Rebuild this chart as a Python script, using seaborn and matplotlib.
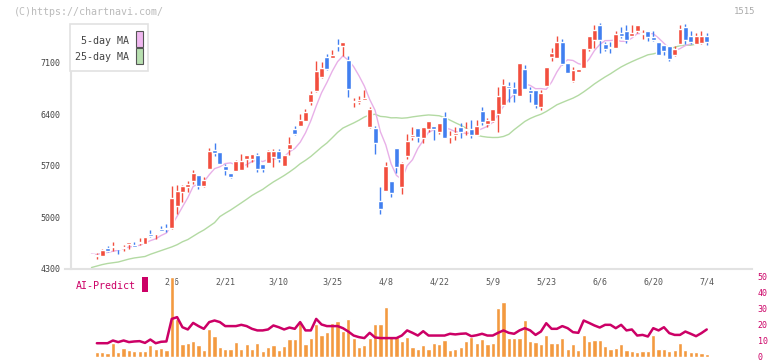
import numpy as np
import pandas as pd
import matplotlib
matplotlib.use("Agg")
import matplotlib.pyplot as plt
import matplotlib.transforms as mtransforms
from matplotlib.patches import Rectangle
import seaborn as sns

# --- 1. Data ---
opens = [4500, 4475, 4480, 4590, 4595, 4585, 4590, 4645, 4625, 4660,
         4645, 4775, 4770, 4835, 4855, 4855, 5155, 5350, 5420, 5500,
         5580, 5430, 5665, 5915, 5885, 5695, 5600, 5630, 5645, 5790,
         5795, 5850, 5725, 5745, 5825, 5905, 5705, 5925, 6200, 6245,
         6315, 6575, 6720, 6915, 7185, 7170, 7345, 7335, 7140, 6565,
         6575, 6600, 6230, 6215, 5225, 5360, 5495, 5945, 5420, 5840,
         6100, 6215, 6085, 6200, 6240, 6165, 6365, 6100, 6120, 6230,
         6195, 6200, 6120, 6445, 6270, 6315, 6405, 6530, 6785, 6755,
         6655, 7020, 6735, 6735, 6505, 6785, 7185, 7170, 7390, 7095,
         6860, 6980, 7035, 7295, 7410, 7620, 7360, 7320, 7305, 7505,
         7530, 7460, 7530, 7495, 7530, 7455, 7385, 7350, 7335, 7210,
         7360, 7590, 7470, 7360, 7370, 7470]
highs = [4510, 4520, 4570, 4610, 4665, 4585, 4625, 4665, 4665, 4715,
         4735, 4830, 4790, 4885, 4910, 5430, 5440, 5440, 5495, 5645,
         5580, 5545, 5940, 6010, 5885, 5725, 5610, 5780, 5865, 5850,
         5865, 5870, 5725, 5915, 5925, 5925, 5850, 6100, 6245, 6405,
         6475, 6720, 7125, 7115, 7220, 7275, 7425, 7385, 7200, 6620,
         6650, 6735, 6505, 6245, 5420, 5760, 5495, 5945, 5760, 6135,
         6225, 6215, 6230, 6310, 6240, 6285, 6440, 6175, 6235, 6290,
         6300, 6325, 6325, 6505, 6350, 6475, 6780, 6880, 6845, 6845,
         7100, 7070, 6780, 6735, 6735, 7050, 7310, 7470, 7425, 7095,
         7050, 7020, 7305, 7460, 7620, 7645, 7385, 7385, 7530, 7585,
         7620, 7620, 7620, 7550, 7530, 7530, 7385, 7350, 7335, 7325,
         7620, 7635, 7530, 7505, 7530, 7505]
lows = [4495, 4430, 4480, 4535, 4550, 4505, 4550, 4570, 4595, 4625,
        4645, 4730, 4710, 4825, 4805, 4845, 5045, 5215, 5350, 5455,
        5390, 5420, 5665, 5835, 5730, 5580, 5535, 5630, 5640, 5690,
        5760, 5620, 5620, 5745, 5690, 5760, 5705, 5850, 6120, 6245,
        6315, 6530, 6710, 6890, 7005, 7165, 7265, 7200, 6635, 6500,
        6540, 6600, 6210, 5865, 5045, 5360, 5285, 5610, 5320, 5795,
        6055, 6030, 6015, 6165, 6055, 6130, 6085, 6015, 6055, 6075,
        6120, 6085, 6120, 6255, 6235, 6300, 6165, 6530, 6575, 6575,
        6655, 6745, 6575, 6485, 6460, 6785, 7125, 7170, 7070, 6960,
        6845, 6980, 7025, 7260, 7305, 7235, 7260, 7235, 7305, 7440,
        7370, 7460, 7505, 7430, 7395, 7400, 7210, 7210, 7125, 7200,
        7360, 7360, 7360, 7360, 7360, 7345]
closes = [4505, 4485, 4560, 4550, 4605, 4575, 4600, 4665, 4600, 4670,
          4735, 4755, 4790, 4825, 4840, 5265, 5360, 5430, 5450, 5605,
          5430, 5510, 5905, 5870, 5730, 5650, 5555, 5770, 5770, 5845,
          5860, 5665, 5660, 5905, 5905, 5800, 5850, 6005, 6130, 6325,
          6440, 6680, 6995, 7035, 7020, 7210, 7330, 7385, 6745, 6580,
          6590, 6630, 6475, 6015, 5115, 5705, 5335, 5690, 5745, 6040,
          6115, 6100, 6230, 6310, 6205, 6285, 6085, 6110, 6150, 6165,
          6205, 6120, 6245, 6300, 6325, 6475, 6655, 6800, 6755, 6680,
          7100, 6745, 6695, 6530, 6690, 7050, 7235, 7390, 7080, 6960,
          7005, 7020, 7305, 7460, 7550, 7415, 7290, 7310, 7495, 7460,
          7415, 7510, 7610, 7505, 7450, 7415, 7210, 7260, 7155, 7290,
          7560, 7415, 7380, 7460, 7470, 7380]

# 25-day MA over the first 24 days (it uses history before the window)
ma25_head = [4320, 4340, 4360, 4375, 4385, 4395, 4415, 4435, 4450, 4460,
             4470, 4500, 4525, 4550, 4575, 4600, 4630, 4670, 4700, 4745,
             4790, 4830, 4880, 4930]

# volume (scaled) and AI-Predict, days 1..115
volume = [2.7, 2.7, 2.1, 8.5, 3.1, 5.2, 4.2, 3.3, 3.5, 3.5,
          7.3, 5.0, 5.2, 4.2, 49.4, 23.5, 7.9, 8.3, 10.0, 6.9,
          4.2, 17.3, 12.9, 6.0, 5.0, 5.0, 9.2, 5.0, 7.9, 4.8,
          8.5, 3.5, 6.2, 6.9, 4.2, 6.7, 11.2, 11.2, 21.7, 7.9,
          11.5, 20.4, 13.5, 15.2, 21.0, 22.5, 16.0, 23.5, 11.5, 5.8,
          7.3, 11.7, 20.4, 20.4, 31.0, 12.7, 12.7, 9.8, 12.0, 6.2,
          4.8, 7.3, 4.8, 8.5, 7.9, 10.4, 4.2, 4.8, 5.8, 9.8,
          12.5, 8.3, 11.0, 7.9, 8.5, 30.4, 34.2, 11.7, 11.7, 11.7,
          22.9, 10.0, 9.2, 7.9, 13.3, 8.5, 8.5, 11.7, 4.8, 7.9,
          3.8, 13.3, 9.8, 10.4, 10.4, 6.7, 5.0, 5.4, 7.7, 4.2,
          3.5, 2.9, 3.5, 3.5, 13.3, 4.8, 4.8, 3.5, 4.2, 8.5,
          4.2, 2.9, 2.9, 2.3, 1.7]
ai_predict = [8.3, 8.3, 8.3, 10.0, 9.0, 10.0, 9.0, 9.4, 9.6, 8.5,
              10.6, 8.3, 9.2, 9.4, 23.5, 24.6, 18.3, 16.9, 21.0, 19.0,
              17.3, 21.5, 22.5, 21.5, 19.0, 19.0, 19.0, 19.8, 19.0, 17.3,
              16.3, 16.3, 16.9, 19.4, 18.3, 16.9, 18.1, 17.3, 21.5, 16.3,
              16.3, 23.5, 20.0, 19.0, 19.0, 19.0, 17.7, 15.6, 13.1, 12.1,
              11.5, 14.8, 11.9, 11.5, 11.5, 11.5, 11.5, 13.1, 16.3, 14.8,
              13.1, 15.8, 13.1, 13.1, 13.1, 13.1, 14.2, 13.8, 14.2, 14.4,
              12.7, 13.3, 14.2, 13.1, 13.1, 14.8, 16.3, 14.8, 14.2, 16.3,
              17.7, 16.3, 13.5, 15.6, 20.8, 17.3, 17.3, 19.0, 17.7, 15.2,
              14.8, 22.5, 21.0, 19.4, 18.1, 19.8, 19.8, 17.7, 19.8, 16.3,
              16.9, 13.1, 13.5, 12.5, 17.7, 16.3, 18.3, 14.6, 13.5, 13.5,
              15.6, 14.2, 12.7, 14.6, 16.9]

date_labels = ['2/6', '2/21', '3/10', '3/25', '4/8', '4/22', '5/9',
               '5/23', '6/6', '6/20', '7/4']
date_days = [15, 25, 35, 45, 55, 65, 75, 85, 95, 105, 115]
price_ticks = [4300, 5000, 5700, 6400, 7100]
right_ticks = [0, 10, 20, 30, 40, 50]

RED = '#f24e3e'
BLUE = '#417ff0'
GRID = '#e2e2e2'
CRIMSON = '#cc0066'
ORANGE = '#f39a40'

# --- 2. Frame ---
W, H = 772, 361


def fx(px):
    return px / W


def fy(py):
    return 1 - py / H


sns.set_style('white')
plt.rcParams['font.family'] = ['DejaVu Sans Mono']

fig = plt.figure(figsize=(W / 100, H / 100), dpi=100)
ax = fig.add_axes([fx(65), fy(269), fx(752) - fx(65), fy(20) - fy(269)])
axv = fig.add_axes([fx(65), fy(356.5), fx(752) - fx(65), fy(276.5) - fy(356.5)])

xlim = (-4.953, 123.46)

df = pd.DataFrame({'day': np.arange(len(closes)), 'open': opens, 'high': highs,
                   'low': lows, 'close': closes})
df['ma5'] = df['close'].rolling(5, min_periods=1).mean()
ma25 = df['close'].rolling(25).mean()
ma25.iloc[:24] = ma25_head
df['ma25'] = ma25

# --- 3. Price panel ---
sns.lineplot(data=df, x='day', y='ma25', ax=ax, color='#b3daa3', lw=1, zorder=1)
sns.lineplot(data=df, x='day', y='ma5', ax=ax, color='#e8b0e8', lw=1, zorder=1)

up = df['close'] >= df['open']
colors = np.where(up, RED, BLUE)
ax.vlines(df['day'], df['low'], df['high'], colors=colors, lw=1, zorder=2)
raw = (df['close'] - df['open']).abs()
body = raw.clip(lower=14)
bottom = df[['open', 'close']].min(axis=1) - (body - raw) / 2
ax.bar(df['day'], body, bottom=bottom, width=0.92, color=colors, zorder=3)

ax.set_xlim(*xlim)
ax.set_ylim(4300, 7684)
ax.set_xlabel('')
ax.set_ylabel('')
for s in ['top', 'right']:
    ax.spines[s].set_visible(False)
ax.spines['left'].set_position(('data', -3.9))
ax.spines['left'].set_bounds(4300, 7610)
for s in ['left', 'bottom']:
    ax.spines[s].set_color(GRID)
    ax.spines[s].set_linewidth(1.5)

ax.set_yticks(price_ticks)
ax.set_yticklabels([str(t) for t in price_ticks])
ax.tick_params(axis='y', direction='out', length=3.6, width=1, color=GRID,
               labelsize=6, labelcolor='#444444', pad=4)
ax.set_xticks(np.arange(-3.83, 124, 11.57))
ax.set_xticklabels([])
ax.tick_params(axis='x', direction='inout', length=6.5, width=1.5, color=GRID)

trans = mtransforms.blended_transform_factory(ax.transData, ax.transAxes)
for d, lab in zip(date_days, date_labels):
    ax.text(d, -0.052, lab, transform=trans, ha='center', va='center',
            fontsize=6, color='#555555')

# --- 4. Volume / AI-Predict panel ---
vol_days = np.arange(1, len(volume) + 1)
axv.bar(vol_days, volume, width=0.8, color=ORANGE, zorder=1)
sns.lineplot(x=vol_days, y=ai_predict, color=CRIMSON, lw=1.8, ax=axv, zorder=2)
axv.set_xlim(*xlim)
axv.set_ylim(0, 50)
axv.set_xticks([])
axv.set_xlabel('')
axv.set_ylabel('')
for s in axv.spines.values():
    s.set_visible(False)
axv.yaxis.tick_right()
axv.set_yticks(right_ticks)
axv.set_yticklabels([str(t) for t in right_ticks])
axv.tick_params(axis='y', length=0, pad=4, labelsize=6, labelcolor=CRIMSON)
axv.patch.set_alpha(0)

# --- 5. Legend and captions ---
fig.add_artist(Rectangle((fx(70), fy(71)), fx(148) - fx(70), fy(24) - fy(71),
                         transform=fig.transFigure, facecolor='white',
                         edgecolor=GRID, lw=1.2))
for ytop, ybot, fc, lab, ytxt in [(31, 46.5, '#f0b8f0', '5-day MA', 40.5),
                                  (48.5, 63.5, '#b8e0b0', '25-day MA', 57)]:
    fig.add_artist(Rectangle((fx(136), fy(ybot)), fx(142.5) - fx(136),
                             fy(ytop) - fy(ybot), transform=fig.transFigure,
                             facecolor=fc, edgecolor='#555555', lw=0.8))
    fig.text(fx(129), fy(ytxt), lab, ha='right', va='center', fontsize=7.2,
             color='#444444')

fig.text(fx(76), fy(286), 'AI-Predict', ha='left', va='center', fontsize=7.2,
         color=CRIMSON)
fig.add_artist(Rectangle((fx(142.3), fy(292.3)), fx(148.3) - fx(142.3),
                         fy(277) - fy(292.3), transform=fig.transFigure,
                         facecolor=CRIMSON, edgecolor='none'))

fig.text(fx(14), fy(12), '(C)https://chartnavi.com/', ha='left', va='center',
         fontsize=7.2, color='#bbbbbb')
fig.text(fx(755), fy(12), '1515', ha='right', va='center', fontsize=6.5,
         color='#aaaaaa')

fig.savefig('out.png', dpi=100)
